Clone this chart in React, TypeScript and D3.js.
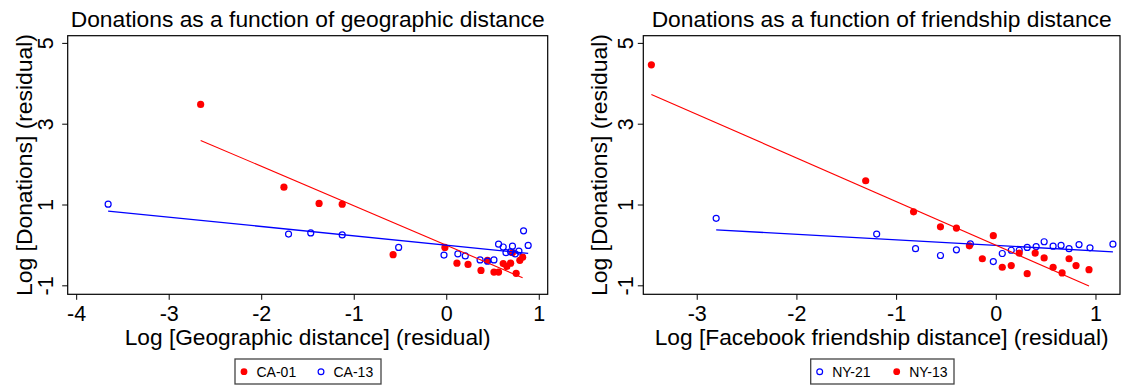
import React from "react";
import * as d3 from "d3";

// ---------- data ----------
const yTicks = [-1, 1, 3, 5];
const leftXTicks = [-4, -3, -2, -1, 0, 1];
const rightXTicks = [-3, -2, -1, 0, 1];

// Left panel: geographic distance
const ca01X = [-2.66, -1.76, -1.38, -1.13, -0.58, -0.02, 0.11, 0.23, 0.37, 0.44, 0.51, 0.56, 0.61, 0.65, 0.69, 0.71, 0.75, 0.79, 0.82];
const ca01Y = [3.49, 1.44, 1.04, 1.02, -0.23, -0.05, -0.44, -0.47, -0.62, -0.37, -0.66, -0.66, -0.45, -0.52, -0.44, -0.18, -0.69, -0.37, -0.29];
const ca13X = [-3.66, -1.71, -1.47, -1.13, -0.52, -0.03, 0.12, 0.2, 0.36, 0.44, 0.51, 0.56, 0.61, 0.64, 0.69, 0.71, 0.74, 0.78, 0.83, 0.88];
const ca13Y = [1.02, 0.28, 0.31, 0.26, -0.05, -0.24, -0.21, -0.26, -0.36, -0.39, -0.36, 0.03, -0.04, -0.18, -0.16, -0.02, -0.21, -0.14, 0.36, 0.0];
const ca01Fit = { slope: -0.977, intercept: 0.0 };
const ca13Fit = { slope: -0.231, intercept: 0.005 };

// Right panel: friendship distance
const ny21X = [-2.81, -1.2, -0.81, -0.56, -0.4, -0.26, -0.03, 0.06, 0.15, 0.23, 0.31, 0.4, 0.48, 0.57, 0.65, 0.73, 0.83, 0.94, 1.17];
const ny21Y = [0.67, 0.28, -0.08, -0.25, -0.11, 0.04, -0.4, -0.2, -0.12, -0.12, -0.05, -0.03, 0.09, -0.02, 0.0, -0.08, 0.02, -0.06, 0.03];
const ny13X = [-3.46, -1.31, -0.83, -0.56, -0.4, -0.27, -0.03, -0.14, 0.06, 0.15, 0.23, 0.31, 0.39, 0.48, 0.57, 0.66, 0.73, 0.8, 0.93];
const ny13Y = [4.47, 1.6, 0.83, 0.46, 0.43, -0.01, 0.24, -0.33, -0.54, -0.5, -0.19, -0.7, -0.19, -0.31, -0.54, -0.68, -0.33, -0.5, -0.6];
const ny21Fit = { slope: -0.137, intercept: 0.0 };
const ny13Fit = { slope: -1.08, intercept: 0.0 };

const FONT = "'Liberation Sans', Arial, Helvetica, sans-serif";
const RED = "#ff0000";
const BLUE = "#0000ff";

type Series = {
  name: string;
  xs: number[];
  ys: number[];
  fit: { slope: number; intercept: number };
  color: string;
  filled: boolean;
};

type PanelProps = {
  left: number;
  right: number;
  top: number;
  bottom: number;
  xDomain: [number, number];
  yDomain: [number, number];
  xTicks: number[];
  title: string;
  titleLen: number;
  xTitle: string;
  xTitleLen: number;
  yTickBase: number;
  yTitleBase: number;
  series: Series[];
  legendLeft: number;
  legendWidth: number;
};

function Marker({ cx, cy, color, filled }: { cx: number; cy: number; color: string; filled: boolean }) {
  return filled ? (
    <circle cx={cx} cy={cy} r={3.6} fill={color} />
  ) : (
    <circle cx={cx} cy={cy} r={3} fill="none" stroke={color} strokeWidth={1.2} />
  );
}

function Panel(p: PanelProps) {
  const x = d3.scaleLinear().domain(p.xDomain).range([p.left, p.right]);
  const y = d3.scaleLinear().domain(p.yDomain).range([p.bottom, p.top]);
  const cx = (p.left + p.right) / 2;
  const cy = (p.top + p.bottom) / 2;
  return (
    <g>
      <rect
        x={p.left}
        y={p.top}
        width={p.right - p.left}
        height={p.bottom - p.top}
        fill="white"
        stroke="black"
        strokeWidth={1.2}
      />
      <text
        x={cx}
        y={26.7}
        textAnchor="middle"
        fontSize={22}
        fontFamily={FONT}
        textLength={p.titleLen}
        lengthAdjust="spacingAndGlyphs"
      >
        {p.title}
      </text>
      {p.xTicks.map((t) => (
        <g key={"xt" + t}>
          <line x1={x(t)} x2={x(t)} y1={p.bottom} y2={p.bottom + 5.5} stroke="black" strokeWidth={1} />
          <text x={x(t)} y={320.7} textAnchor="middle" fontSize={21.5} fontFamily={FONT}>
            {String(t)}
          </text>
        </g>
      ))}
      <text
        x={cx}
        y={345}
        textAnchor="middle"
        fontSize={22}
        fontFamily={FONT}
        textLength={p.xTitleLen}
        lengthAdjust="spacingAndGlyphs"
      >
        {p.xTitle}
      </text>
      {yTicks.map((t) => (
        <g key={"yt" + t}>
          <line x1={p.left - 5.5} x2={p.left} y1={y(t)} y2={y(t)} stroke="black" strokeWidth={1} />
          <text
            transform={`translate(${p.yTickBase},${y(t)}) rotate(-90)`}
            textAnchor="middle"
            fontSize={21.5}
            fontFamily={FONT}
          >
            {String(t)}
          </text>
        </g>
      ))}
      <text
        transform={`translate(${p.yTitleBase},${cy}) rotate(-90)`}
        textAnchor="middle"
        fontSize={22}
        fontFamily={FONT}
        textLength={262}
        lengthAdjust="spacingAndGlyphs"
      >
        Log [Donations] (residual)
      </text>
      {p.series.map((s) => (
        <g key={"pts" + s.name}>
          {s.xs.map((xv, i) => (
            <Marker key={i} cx={x(xv)} cy={y(s.ys[i])} color={s.color} filled={s.filled} />
          ))}
        </g>
      ))}
      {p.series.map((s) => {
        const ext = d3.extent(s.xs) as [number, number];
        const gen = d3
          .line<number>()
          .x((xv) => x(xv))
          .y((xv) => y(s.fit.slope * xv + s.fit.intercept));
        return (
          <path
            key={"fit" + s.name}
            d={gen(ext) || ""}
            fill="none"
            stroke={s.color}
            strokeWidth={s.color === BLUE ? 1.3 : 1.1}
          />
        );
      })}
      <rect
        x={p.legendLeft}
        y={359}
        width={p.legendWidth}
        height={25}
        fill="white"
        stroke="#444"
        strokeWidth={1.3}
      />
      {p.series.map((s, i) => {
        const mx = p.legendLeft + 9 + i * 77;
        return (
          <g key={"lg" + s.name}>
            {s.filled ? (
              <circle cx={mx} cy={371.7} r={3.4} fill={s.color} />
            ) : (
              <circle cx={mx} cy={371.7} r={2.9} fill="none" stroke={s.color} strokeWidth={1.2} />
            )}
            <text x={mx + 12.5} y={376.7} fontSize={14} fontFamily={FONT}>
              {s.name}
            </text>
          </g>
        );
      })}
    </g>
  );
}

export default function App() {
  const leftSeries: Series[] = [
    { name: "CA-01", xs: ca01X, ys: ca01Y, fit: ca01Fit, color: RED, filled: true },
    { name: "CA-13", xs: ca13X, ys: ca13Y, fit: ca13Fit, color: BLUE, filled: false },
  ];
  const rightSeries: Series[] = [
    { name: "NY-21", xs: ny21X, ys: ny21Y, fit: ny21Fit, color: BLUE, filled: false },
    { name: "NY-13", xs: ny13X, ys: ny13Y, fit: ny13Fit, color: RED, filled: true },
  ];
  return (
    <svg
      width={1123}
      height={385}
      style={{ position: "absolute", left: 0, top: 0, display: "block", background: "white" }}
    >
      <rect x={0} y={0} width={1123} height={385} fill="white" />
      <Panel
        left={67.7}
        right={547.7}
        top={35.7}
        bottom={294.3}
        xDomain={[-4.097, 1.091]}
        yDomain={[-1.21, 5.19]}
        xTicks={leftXTicks}
        title="Donations as a function of geographic distance"
        titleLen={474}
        xTitle="Log [Geographic distance] (residual)"
        xTitleLen={366}
        yTickBase={53.3}
        yTitleBase={31.7}
        series={leftSeries}
        legendLeft={235}
        legendWidth={146}
      />
      <Panel
        left={643.3}
        right={1120}
        top={35.7}
        bottom={294.3}
        xDomain={[-3.541, 1.241]}
        yDomain={[-1.21, 5.19]}
        xTicks={rightXTicks}
        title="Donations as a function of friendship distance"
        titleLen={460}
        xTitle="Log [Facebook friendship distance] (residual)"
        xTitleLen={454}
        yTickBase={632.7}
        yTitleBase={606.7}
        series={rightSeries}
        legendLeft={810.7}
        legendWidth={143.3}
      />
    </svg>
  );
}
